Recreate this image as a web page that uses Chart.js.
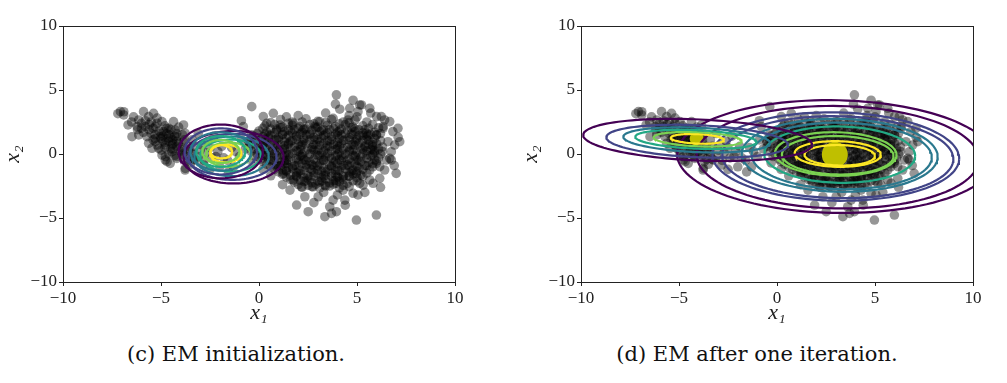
<!DOCTYPE html>
<html>
<head>
<meta charset="utf-8">
<title>EM initialization / after one iteration</title>
<script src="https://cdn.jsdelivr.net/npm/chart.js@4.4.1/dist/chart.umd.min.js"></script>
<style>
  html, body { margin: 0; padding: 0; background: #fff; }
  #page { position: relative; width: 1007px; height: 383px; overflow: hidden; }
  canvas { position: absolute; top: 0; }
  #chartLeft { left: 0; }
  #chartRight { left: 518px; }
  .caption {
    position: absolute; top: 342px;
    font-family: 'DejaVu Serif', serif; font-size: 21px; color: #111;
    white-space: nowrap; transform: translateX(-50%);
  }
</style>
</head>
<body>
<div id="page">
  <canvas id="chartLeft" width="470" height="330"></canvas>
  <canvas id="chartRight" width="470" height="330"></canvas>
  <div class="caption" style="left:236px">(c) EM initialization.</div>
  <div class="caption" style="left:757px">(d) EM after one iteration.</div>
</div>
<script>
// axis ticks (same on both panels)
const tickValues = [-10, -5, 0, 5, 10];

// samples: left (small) cluster
const leftClusterPts = [
  [-7.07,3.31],[-6.9,3.05],[-7.2,3.15],[-6.9,3.3],[-6.68,2.27],[-6.4,2.9],[-5.89,3.31],[-5.63,2.92],[-5.38,3.18],
  [-5.2,2.8],[-6.14,2.66],[-6.22,2.14],[-6.0,2.4],[-5.5,2.5],[-5.6,1.9],[-6.48,1.35],[-6.14,1.49],[-5.72,1.35],
  [-5.29,2.14],[-4.95,2.53],[-4.7,2.01],[-4.36,2.53],[-3.85,2.27],[-3.77,1.62],[-5.29,0.96],[-5.04,1.35],
  [-4.62,1.23],[-4.19,1.35],[-5.12,0.45],[-4.78,0.7],[-4.44,0.7],[-4.11,0.84],[-3.93,0.31],[-4.44,0.18],
  [-4.78,-0.21],[-4.53,-0.73],[-4.19,-0.34],[-3.77,-1.25],[-5.46,0.45],[-5.63,0.84],[-3.85,0.96],[-4.27,1.88],
  [-5.8,2.14],[-4.87,1.75],[-4.95,-0.08],[-4.78,-0.47],[-5.0,1.6],[-4.6,1.5],[-4.4,1.1],[-4.9,1.0],[-5.3,1.5],
  [-4.2,1.6],[-4.5,0.4],[-4.0,0.5],[-4.3,-0.1],[-3.6,0.6],[-3.4,1.1],[-3.5,0.2],[-3.3,-0.4],[-3.7,-0.6],
  [-3.0,0.3],[-2.8,-0.5],[-3.25,-0.47],[-2.82,-0.86],[-3.76,-1.12],[-4.69,-0.6],[-2.5,0.5],[-2.2,-0.2],
  [-2.6,1.0],[-3.1,1.6],[-2.3,1.4],[-1.9,0.6],[-1.6,-0.5],[-1.2,0.2],[-0.9,1.1],[-0.53,0.96],[-0.8,2.14],
  [-0.37,3.7],[-1.55,-1.4],[-2.0,-1.0],[-6.0,2.0],[-5.6,2.3],[-5.2,2.4],[-4.8,2.2],[-4.5,1.9],[-4.1,2.1],
  [-5.9,1.7],[-5.5,1.6],[-5.1,1.8],[-4.7,1.6],[-4.3,1.4],[-3.9,1.5],[-5.4,1.1],[-5.0,1.2],[-4.6,1.0],
  [-4.2,1.0],[-3.8,1.1],[-5.2,0.7],[-4.8,0.5],[-4.4,0.4],[-4.0,0.2],[-3.6,0.3],[-4.6,0.0],[-4.2,-0.2],
  [-3.8,-0.1],[-3.4,0.0],[-3.5,-0.8],[-3.1,-0.2],[-2.7,0.1],[-2.4,-0.3],[-2.9,0.7],[-3.3,0.6],[-2.1,0.2],
  [-1.8,-0.3],[-1.4,0.5],[-1.0,-0.2],[-0.7,0.4],[-0.4,1.5],[-0.9,2.6],[-2.5,-1.2],[-1.3,-1.0],
  [-5.3,1.2],[-4.9,1.4],[-4.5,1.3],[-4.8,0.9],[-4.4,0.8],[-5.0,0.3],[-4.2,0.6],[-4.6,2.0],[-5.4,2.0],
  [-5.8,2.6],[-6.5,2.5],[-6.2,1.9],[-3.9,0.0],[-3.6,-0.4]
];

// samples: right (large) cluster, outer points
const rightOuterPts = [
  [3.95,4.62],[4.12,3.5],[4.63,3.57],[5.14,3.83],[5.65,3.57],[5.05,3.31],[4.54,2.66],[3.78,2.79],[3.1,2.53],
  [2.85,2.14],[6.0,2.92],[6.41,2.66],[6.33,2.01],[6.83,1.75],[7.09,2.01],[7.18,0.96],[6.58,0.96],[6.75,0.18],
  [6.92,0.7],[6.5,-0.47],[6.41,-1.25],[7.0,-1.51],[6.75,-0.47],[6.16,-1.9],[5.65,-2.03],[5.14,-2.29],
  [4.8,-3.07],[4.29,-2.82],[3.78,-3.6],[3.61,-4.12],[3.36,-4.9],[3.7,-4.64],[4.97,-5.16],[5.99,-4.77],
  [2.51,-4.51],[1.92,-3.99],[2.34,-3.34],[3.02,-3.34],[1.58,-2.82],[2.17,-2.56],[2.76,-2.56],[3.36,-2.43],
  [1.75,-2.03],[1.24,-1.51],[0.9,-0.99],[1.41,-0.73],[0.73,3.18],[1.07,2.27],[1.75,2.4],[2.25,1.88],
  [0.39,2.4],[5.48,1.62],[5.82,0.57],[5.99,-0.73],[5.65,-1.25],[4.97,-1.51],[4.29,-1.77],[3.95,-2.29],
  [5.23,3.83],[6.24,2.92],[6.67,2.53],[6.67,-0.34],[5.82,-2.29],[5.31,-2.43],[5.05,-3.2],[4.38,-3.6],
  [3.95,-4.51],[6.16,-0.99],[5.82,0.31],[5.56,1.49],[5.99,1.49],[6.33,2.14],[0.22,2.92],[4.4,-4.0],
  [4.0,-3.2],[3.3,-3.0],[2.8,-3.8],[4.6,3.0],[5.0,2.9],[3.4,3.2],[2.0,3.0],[1.4,2.9],[7.1,1.3],[6.9,-0.9],
  [6.2,-2.6],[5.4,-3.0],[1.2,-2.4],[0.6,-1.7],[0.2,-1.2],[-0.3,-0.7],[4.8,4.2],[3.9,3.9],[5.7,3.2]
];

// right cluster, dense core (estimated, it prints as solid black)
const rightCorePts = [
  [1.1,2.7],[1.7,2.5],[2.4,2.75],[3.0,2.55],[3.7,2.7],[4.3,2.5],[4.9,2.65],
  [0.3,2.2],[0.8,2.3],[1.2,2.1],[1.7,2.25],[2.1,2.15],[2.6,2.3],[3.0,2.1],[3.5,2.25],[3.9,2.15],[4.4,2.3],[4.8,2.1],[5.3,2.2],[5.8,2.3],
  [0.0,1.8],[0.4,1.7],[0.9,1.85],[1.3,1.75],[1.8,1.9],[2.2,1.7],[2.7,1.85],[3.1,1.75],[3.6,1.9],[4.0,1.7],[4.5,1.85],[4.9,1.75],[5.4,1.9],[5.9,1.7],
  [-0.3,1.4],[0.2,1.35],[0.6,1.45],[1.0,1.3],[1.5,1.45],[1.9,1.35],[2.4,1.5],[2.8,1.3],[3.3,1.45],[3.7,1.35],[4.2,1.5],[4.6,1.3],[5.1,1.45],[5.5,1.35],[6.0,1.5],
  [-0.5,1.0],[-0.1,1.05],[0.4,0.95],[0.8,1.1],[1.3,0.95],[1.7,1.05],[2.2,0.9],[2.6,1.1],[3.1,0.95],[3.5,1.05],[4.0,0.9],[4.4,1.1],[4.9,0.95],[5.3,1.05],[5.8,0.9],[6.2,1.05],
  [-0.5,0.6],[0.0,0.55],[0.4,0.65],[0.9,0.5],[1.3,0.65],[1.8,0.55],[2.2,0.7],[2.7,0.5],[3.1,0.65],[3.6,0.55],[4.0,0.7],[4.5,0.5],[4.9,0.65],[5.4,0.55],[5.8,0.7],[6.3,0.55],
  [-0.4,0.2],[0.1,0.25],[0.5,0.15],[1.0,0.3],[1.4,0.15],[1.9,0.25],[2.3,0.1],[2.8,0.3],[3.2,0.15],[3.7,0.25],[4.1,0.1],[4.6,0.3],[5.0,0.15],[5.5,0.25],[5.9,0.1],[6.3,0.2],
  [-0.2,-0.2],[0.3,-0.15],[0.7,-0.25],[1.2,-0.1],[1.6,-0.25],[2.1,-0.15],[2.5,-0.3],[3.0,-0.1],[3.4,-0.25],[3.9,-0.15],[4.3,-0.3],[4.8,-0.1],[5.2,-0.25],[5.7,-0.15],[6.1,-0.3],
  [0.2,-0.6],[0.6,-0.55],[1.1,-0.65],[1.5,-0.5],[2.0,-0.65],[2.4,-0.55],[2.9,-0.7],[3.3,-0.5],[3.8,-0.65],[4.2,-0.55],[4.7,-0.7],[5.1,-0.5],[5.6,-0.65],[6.0,-0.55],
  [0.6,-1.0],[1.0,-0.95],[1.5,-1.05],[1.9,-0.9],[2.4,-1.05],[2.8,-0.95],[3.3,-1.1],[3.7,-0.9],[4.2,-1.05],[4.6,-0.95],[5.1,-1.1],[5.5,-0.9],[5.8,-1.0],
  [1.0,-1.4],[1.4,-1.35],[1.9,-1.45],[2.3,-1.3],[2.8,-1.45],[3.2,-1.35],[3.7,-1.5],[4.1,-1.3],[4.6,-1.45],[5.0,-1.35],[5.5,-1.5],
  [1.4,-1.8],[1.9,-1.75],[2.3,-1.85],[2.8,-1.7],[3.2,-1.85],[3.7,-1.75],[4.1,-1.9],[4.6,-1.7],[5.0,-1.85],[5.3,-1.75],
  [1.8,-2.2],[2.3,-2.15],[2.7,-2.25],[3.2,-2.1],[3.6,-2.25],[4.1,-2.15],[4.5,-2.3],[5.0,-2.1],
  [2.2,-2.6],[2.7,-2.55],[3.1,-2.65],[3.6,-2.5],[4.1,-2.65],[4.6,-2.55],
  [0.6,2.45],[1.5,2.4],[2.2,2.5],[2.8,2.35],[3.4,2.45],[4.1,2.35],[4.6,2.45],[5.5,2.5],
  [0.2,2.0],[0.6,1.95],[1.1,2.05],[1.5,1.9],[2.0,2.0],[2.4,1.95],[2.9,2.05],[3.3,1.9],[3.8,2.0],[4.2,1.95],[4.7,2.05],[5.1,1.9],[5.6,2.0],[6.1,2.05],
  [-0.1,1.6],[0.3,1.55],[0.8,1.65],[1.2,1.5],[1.7,1.65],[2.1,1.55],[2.6,1.6],[3.0,1.5],[3.5,1.65],[3.9,1.55],[4.4,1.6],[4.8,1.5],[5.3,1.65],[5.7,1.55],[6.2,1.6],
  [-0.4,1.2],[0.1,1.15],[0.5,1.25],[1.0,1.1],[1.4,1.25],[1.9,1.15],[2.3,1.2],[2.8,1.1],[3.2,1.25],[3.7,1.15],[4.1,1.2],[4.6,1.1],[5.0,1.25],[5.5,1.15],[5.9,1.2],
  [-0.3,0.8],[0.2,0.75],[0.6,0.85],[1.1,0.7],[1.5,0.85],[2.0,0.75],[2.4,0.8],[2.9,0.7],[3.3,0.85],[3.8,0.75],[4.2,0.8],[4.7,0.7],[5.1,0.85],[5.6,0.75],[6.0,0.8],
  [-0.2,0.4],[0.3,0.35],[0.7,0.45],[1.2,0.3],[1.6,0.45],[2.1,0.35],[2.5,0.4],[3.0,0.3],[3.4,0.45],[3.9,0.35],[4.3,0.4],[4.8,0.3],[5.2,0.45],[5.7,0.35],[6.1,0.4],
  [-0.1,0.0],[0.4,-0.05],[0.8,0.05],[1.3,-0.1],[1.7,0.05],[2.2,-0.05],[2.6,0.0],[3.1,-0.1],[3.5,0.05],[4.0,-0.05],[4.4,0.0],[4.9,-0.1],[5.3,0.05],[5.8,-0.05],[6.2,0.0],
  [0.1,-0.4],[0.5,-0.45],[1.0,-0.35],[1.4,-0.5],[1.9,-0.35],[2.3,-0.45],[2.8,-0.4],[3.2,-0.5],[3.7,-0.35],[4.1,-0.45],[4.6,-0.4],[5.0,-0.5],[5.5,-0.35],[5.9,-0.45],
  [0.4,-0.8],[0.9,-0.85],[1.3,-0.75],[1.8,-0.9],[2.2,-0.75],[2.7,-0.85],[3.1,-0.8],[3.6,-0.9],[4.0,-0.75],[4.5,-0.85],[4.9,-0.8],[5.4,-0.9],[5.8,-0.75],
  [0.8,-1.2],[1.2,-1.25],[1.7,-1.15],[2.1,-1.3],[2.6,-1.15],[3.0,-1.25],[3.5,-1.2],[3.9,-1.3],[4.4,-1.15],[4.8,-1.25],[5.3,-1.2],
  [1.2,-1.6],[1.6,-1.65],[2.1,-1.55],[2.5,-1.7],[3.0,-1.55],[3.4,-1.65],[3.9,-1.6],[4.3,-1.7],[4.8,-1.55],[5.2,-1.65],
  [1.6,-2.0],[2.1,-2.05],[2.5,-1.95],[3.0,-2.1],[3.4,-1.95],[3.9,-2.05],[4.3,-2.0],[4.8,-2.1],
  [2.0,-2.4],[2.5,-2.45],[2.9,-2.35],[3.4,-2.5],[3.8,-2.35],[4.3,-2.45],
  [0.9,1.95],[1.6,1.8],[2.3,1.95],[3.2,1.85],[4.1,1.8],[4.9,1.95],
  [0.5,1.5],[1.2,1.55],[1.9,1.45],[2.6,1.5],[3.4,1.55],[4.0,1.45],[4.7,1.55],[5.3,1.45],
  [0.3,1.05],[0.9,1.15],[1.6,1.0],[2.3,1.05],[3.0,1.15],[3.6,1.0],[4.3,1.05],[5.0,1.1],[5.6,1.05],
  [0.2,0.7],[0.8,0.65],[1.5,0.75],[2.1,0.6],[2.8,0.75],[3.5,0.65],[4.1,0.6],[4.8,0.75],[5.4,0.65],
  [0.0,0.3],[0.7,0.25],[1.3,0.4],[2.0,0.2],[2.7,0.35],[3.3,0.25],[4.0,0.4],[4.6,0.2],[5.3,0.35],[5.9,0.25],
  [0.2,-0.1],[0.9,-0.15],[1.5,-0.05],[2.2,-0.2],[2.9,-0.05],[3.6,-0.2],[4.2,-0.1],[4.9,-0.2],[5.5,-0.05],
  [0.7,-0.5],[1.3,-0.55],[2.0,-0.45],[2.6,-0.6],[3.3,-0.45],[3.9,-0.55],[4.5,-0.5],[5.2,-0.6],
  [1.1,-0.9],[1.7,-1.0],[2.4,-0.85],[3.0,-0.95],[3.7,-1.0],[4.3,-0.9],[5.0,-0.95],
  [1.4,-1.3],[2.0,-1.4],[2.7,-1.25],[3.4,-1.4],[4.0,-1.25],[4.7,-1.35],
  [1.9,-1.7],[2.6,-1.8],[3.3,-1.7],[4.0,-1.8],[4.6,-1.75],
  [2.4,-2.1],[3.1,-2.2],[3.8,-2.1]
];

// contour rings: [centre x, centre y, half-width, half-height, tilt deg, level]
const initRings = [
  [-1.95, 0.20, 2.15, 2.10, 0, 0],
  [-1.95, 0.20, 1.85, 1.80, 0, 1],
  [-1.95, 0.20, 1.55, 1.50, 0, 2],
  [-1.95, 0.20, 1.25, 1.20, 0, 3],
  [-1.95, 0.20, 0.95, 0.90, 0, 4],
  [-1.92, 0.18, 0.55, 0.52, 0, 5],
  [-1.30, -0.25, 2.55, 2.05, 0, 0],
  [-1.35, -0.22, 2.25, 1.80, 0, 1],
  [-1.40, -0.18, 1.90, 1.55, 0, 2],
  [-1.45, -0.12, 1.55, 1.25, 0, 3],
  [-1.55, -0.05, 1.15, 0.95, 0, 4],
  [-1.70, 0.05, 0.80, 0.70, 0, 5]
];

const iterRings = [
  [-4.05, 1.10, 5.85, 1.60, -4, 0],
  [-4.07, 1.00, 4.65, 1.25, -4, 1],
  [-4.10, 1.10, 3.75, 0.95, -4, 2],
  [-4.14, 1.14, 3.10, 0.72, -4, 3],
  [-4.05, 1.15, 2.25, 0.55, -4, 4],
  [-4.06, 1.18, 1.36, 0.37, -4, 5],
  [3.00, -0.20, 8.10, 4.40, -2, 0],
  [3.10, -0.25, 7.20, 4.00, -2, 0],
  [3.00, -0.20, 6.30, 3.45, -2, 1],
  [3.10, -0.25, 5.90, 3.20, -2, 1],
  [3.20, -0.10, 5.00, 2.85, -2, 2],
  [3.30, -0.15, 4.60, 2.60, -2, 2],
  [3.20, -0.05, 3.85, 2.20, -2, 3],
  [3.00, 0.00, 3.10, 1.70, -2, 4],
  [3.10, -0.10, 2.85, 1.50, -2, 4],
  [3.10, 0.00, 2.20, 1.00, -2, 5],
  [3.20, -0.10, 1.80, 0.80, -2, 5]
];

// component means after one iteration
const iterMeans = [[-4.1, 1.2], [2.95, -0.05]];

// viridis colours per contour level
const levelColors = ['#440154', '#414487', '#2a788e', '#22a884', '#7ad151', '#fde725'];

const allPts = leftClusterPts.concat(rightOuterPts, rightCorePts).map(p => ({ x: p[0], y: p[1] }));

function ringOutline(r) {
  const [cx, cy, rx, ry, deg] = r;
  const a = deg * Math.PI / 180;
  const out = [];
  for (let i = 0; i <= 120; i++) {
    const t = i / 120 * 2 * Math.PI;
    const ex = rx * Math.cos(t), ey = ry * Math.sin(t);
    out.push({ x: cx + ex * Math.cos(a) - ey * Math.sin(a), y: cy + ex * Math.sin(a) + ey * Math.cos(a) });
  }
  return out;
}

function fmtTick(v) {
  return v < 0 ? '\u2212' + Math.abs(v) : String(v);
}

// matplotlib-like full frame around the plot
const framePlugin = {
  id: 'frame',
  afterDatasetsDraw(chart) {
    const { ctx, chartArea: a } = chart;
    ctx.save();
    ctx.strokeStyle = '#222';
    ctx.lineWidth = 1;
    ctx.strokeRect(Math.round(a.left) + 0.5, Math.round(a.top) + 0.5,
      Math.round(a.right - a.left), Math.round(a.bottom - a.top));
    ctx.restore();
  }
};

function axisOptions(titleText, isX) {
  return {
    type: 'linear',
    min: -10,
    max: 10,
    afterBuildTicks: s => { s.ticks = tickValues.map(v => ({ value: v })); },
    afterFit: s => { if (isX) s.height = 48; else s.width = 63; },
    border: { display: false },
    grid: { display: true, drawOnChartArea: false, drawTicks: true, tickLength: 4, color: '#222', tickWidth: 1 },
    ticks: {
      padding: 2,
      color: '#222',
      font: { family: "'Liberation Serif', 'DejaVu Serif', serif", size: 17 },
      callback: v => fmtTick(v),
      maxRotation: 0
    },
    title: {
      display: true,
      text: titleText,
      color: '#222',
      font: { family: "'Liberation Serif', 'DejaVu Serif', serif", size: 22, style: 'italic' },
      padding: isX ? { top: 0, bottom: 4 } : { top: 0, bottom: 0 }
    }
  };
}

function makeChart(id, rings, means) {
  const datasets = [{
    type: 'scatter',
    data: allPts,
    pointRadius: 4.8,
    pointHoverRadius: 4.8,
    backgroundColor: 'rgba(0,0,0,0.41)',
    borderWidth: 0,
    order: 10
  }];
  if (means) {
    datasets.push({
      type: 'scatter',
      data: means.map(m => ({ x: m[0], y: m[1] })),
      pointRadius: [7, 13],
      backgroundColor: '#bfbf00',
      borderWidth: 0,
      order: 5
    });
  }
  rings.forEach(r => {
    datasets.push({
      type: 'scatter',
      data: ringOutline(r),
      showLine: true,
      pointRadius: 0,
      borderColor: levelColors[r[5]],
      borderWidth: 2.2,
      fill: false,
      order: 1
    });
  });

  return new Chart(document.getElementById(id), {
    type: 'scatter',
    data: { datasets: datasets },
    options: {
      responsive: false,
      animation: false,
      events: [],
      layout: { padding: { top: 26, right: 15, bottom: 0, left: 0 } },
      plugins: { legend: { display: false }, tooltip: { enabled: false } },
      scales: {
        x: axisOptions('x\u2081', true),
        y: axisOptions('x\u2082', false)
      }
    },
    plugins: [framePlugin]
  });
}

makeChart('chartLeft', initRings, null);
makeChart('chartRight', iterRings, iterMeans);
</script>
</body>
</html>
